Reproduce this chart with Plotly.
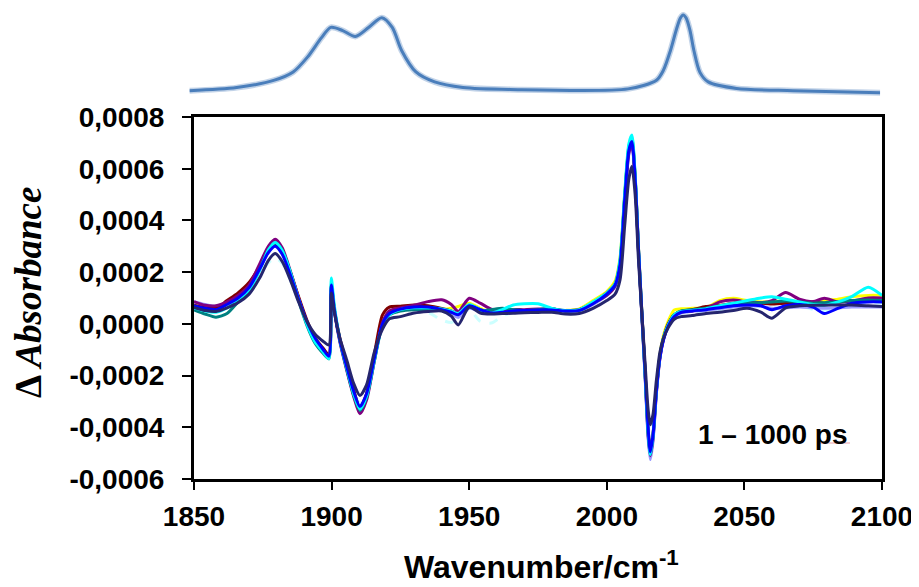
import plotly.graph_objects as go

# ---------------- data ----------------
SCALE = 1e-4  # main-trace values below are given in units of 1e-4 absorbance

wavenumber = [1850, 1854, 1858, 1862, 1866, 1870, 1874, 1877, 1879.5, 1882, 1885, 1888, 1891, 1894,
              1897, 1899, 1899.9, 1901, 1903, 1905.5, 1908, 1910.3, 1912.7, 1915.5, 1918.5, 1921,
              1925, 1930, 1935, 1940, 1943.5, 1946, 1950, 1954, 1958, 1962, 1966, 1970, 1975, 1980,
              1985, 1990, 1995, 2000, 2003, 2004.8, 2006.5, 2008, 2009.1, 2010.3, 2011.5, 2012.7,
              2013.9, 2015, 2015.8, 2016.8, 2018, 2019.3, 2020.6, 2022.3, 2024.5, 2027, 2031, 2036,
              2041, 2046, 2051, 2056, 2060, 2065, 2070, 2075, 2079, 2084, 2089, 2095, 2100]

yellow_e4 = [0.72, 0.64, 0.64, 0.82, 1.05, 1.45, 2.20, 2.85, 3.10, 2.80, 1.95, 1.00, 0.10, -0.55,
             -1.00, -1.25, 1.50, 0.55, -0.60, -1.65, -2.60, -3.25, -2.75, -1.35, 0.05, 0.45,
             0.55, 0.58, 0.60, 0.55, 0.60, 0.67, 0.80, 0.60, 0.45, 0.48, 0.50, 0.52, 0.52, 0.52,
             0.52, 0.58, 0.90, 1.25, 1.65, 2.55, 5.00, 6.80, 7.15, 5.65, 2.90, 0.50,
             -1.85, -4.10, -5.00, -4.30, -2.55, -1.20, -0.45, 0.10, 0.54, 0.58, 0.60, 0.62,
             0.90, 0.99, 0.90, 0.85, 0.85, 0.90, 0.85, 0.85, 0.90, 0.95, 1.05, 1.10, 1.10]

lightcyan_e4 = [0.68, 0.58, 0.52, 0.65, 0.90, 1.25, 1.95, 2.35, 2.55, 2.35, 1.70, 0.85, 0.00, -0.65,
                -1.05, -1.30, 1.65, 0.65, -0.60, -1.70, -2.65, -3.05, -2.65, -1.30, 0.00, 0.40,
                0.55, 0.55, 0.45, 0.15, 0.05, 0.20, 0.55, 0.10, 0.03, 0.30, 0.45, 0.48, 0.50, 0.50,
                0.48, 0.50, 0.75, 1.10, 1.45, 2.30, 4.80, 6.60, 6.95, 5.55, 2.85, 0.45,
                -1.80, -3.90, -4.70, -4.10, -2.50, -1.25, -0.60, -0.10, 0.25, 0.40, 0.45, 0.50,
                0.55, 0.65, 0.70, 0.65, 0.60, 0.70, 0.70, 0.55, 0.50, 0.60, 0.75, 0.80, 0.80]

lavender_e4 = [0.86, 0.75, 0.68, 0.80, 1.05, 1.45, 2.20, 2.80, 3.05, 2.75, 1.95, 0.95, 0.05, -0.60,
               -1.00, -1.22, 1.40, 0.50, -0.62, -1.70, -2.70, -3.30, -2.75, -1.35, 0.00, 0.40,
               0.55, 0.60, 0.60, 0.55, 0.40, 0.25, 0.60, 0.50, 0.40, 0.42, 0.45, 0.48, 0.50, 0.50,
               0.48, 0.50, 0.75, 1.10, 1.45, 2.25, 4.70, 6.55, 6.95, 5.50, 2.80, 0.35,
               -2.00, -4.40, -5.25, -4.55, -2.70, -1.30, -0.60, -0.10, 0.28, 0.42, 0.48, 0.52,
               0.58, 0.65, 0.70, 0.68, 0.60, 0.62, 0.65, 0.62, 0.60, 0.62, 0.65, 0.65, 0.65]

maroon_e4 = [0.72, 0.62, 0.60, 0.90, 1.20, 1.60, 2.25, 2.85, 3.10, 2.80, 2.00, 1.05, 0.15, -0.55,
             -0.95, -1.20, 1.40, 0.55, -0.55, -1.55, -2.55, -3.25, -2.70, -1.20, 0.35, 0.65,
             0.68, 0.73, 0.70, 0.60, 0.50, 0.40, 0.72, 0.55, 0.45, 0.48, 0.52, 0.52, 0.55, 0.55,
             0.52, 0.55, 0.82, 1.20, 1.55, 2.40, 4.90, 6.75, 7.10, 5.65, 2.95, 0.55,
             -1.80, -4.05, -4.90, -4.25, -2.55, -1.25, -0.55, 0.00, 0.35, 0.48, 0.55, 0.67,
             0.72, 0.80, 0.86, 0.80, 0.77, 0.80, 0.85, 0.85, 0.80, 0.85, 0.90, 0.92, 0.93]

purple_e4 = [0.86, 0.72, 0.70, 0.85, 1.10, 1.50, 2.35, 3.00, 3.27, 2.95, 2.05, 1.00, 0.05, -0.65,
             -1.05, -1.28, 1.45, 0.50, -0.70, -1.80, -2.80, -3.48, -2.95, -1.45, 0.05, 0.50,
             0.62, 0.72, 0.86, 0.93, 0.75, 0.48, 0.99, 0.80, 0.57, 0.50, 0.55, 0.55, 0.57, 0.58,
             0.50, 0.55, 0.80, 1.10, 1.45, 2.30, 4.70, 6.60, 7.00, 5.50, 2.80, 0.40,
             -1.95, -4.30, -5.10, -4.45, -2.70, -1.35, -0.60, -0.05, 0.35, 0.45, 0.50, 0.58,
             0.85, 0.92, 0.85, 0.82, 0.90, 1.21, 0.95, 0.86, 0.99, 0.85, 0.88, 1.00, 1.00]

teal_e4 = [0.54, 0.38, 0.26, 0.40, 0.85, 1.30, 2.15, 2.85, 3.14, 2.85, 2.00, 0.90, -0.05, -0.75,
           -1.15, -1.35, 1.55, 0.60, -0.65, -1.75, -2.75, -3.35, -2.85, -1.45, -0.05, 0.35,
           0.50, 0.55, 0.55, 0.52, 0.45, 0.38, 0.65, 0.50, 0.55, 0.60, 0.55, 0.52, 0.55, 0.58,
           0.50, 0.52, 0.80, 1.15, 1.50, 2.35, 4.90, 6.85, 7.20, 5.70, 2.90, 0.45,
           -1.90, -4.20, -5.05, -4.35, -2.60, -1.25, -0.55, -0.05, 0.35, 0.50, 0.55, 0.60,
           0.68, 0.75, 0.80, 0.82, 0.85, 0.88, 0.85, 0.80, 0.82, 0.85, 0.90, 0.92, 0.90]

cyan_e4 = [0.62, 0.50, 0.45, 0.62, 0.90, 1.30, 2.10, 2.85, 3.15, 2.85, 2.00, 0.95, 0.00, -0.70,
           -1.10, -1.35, 1.77, 0.70, -0.60, -1.70, -2.70, -3.30, -2.80, -1.40, -0.05, 0.35,
           0.55, 0.62, 0.62, 0.58, 0.50, 0.40, 0.75, 0.55, 0.42, 0.55, 0.73, 0.78, 0.78, 0.60,
           0.52, 0.55, 0.85, 1.20, 1.55, 2.50, 5.05, 6.95, 7.30, 5.75, 2.95, 0.50,
           -1.90, -4.15, -5.05, -4.35, -2.60, -1.25, -0.55, -0.05, 0.35, 0.48, 0.52, 0.58,
           0.70, 0.80, 0.90, 1.00, 1.05, 0.95, 0.85, 0.75, 0.72, 0.85, 1.05, 1.42, 1.10]

blue_e4 = [0.70, 0.60, 0.55, 0.75, 1.00, 1.40, 2.15, 2.75, 3.00, 2.70, 1.90, 0.95, 0.10, -0.55,
           -1.00, -1.25, 1.50, 0.55, -0.62, -1.65, -2.60, -3.20, -2.70, -1.35, 0.00, 0.40,
           0.57, 0.65, 0.65, 0.55, 0.45, 0.35, 0.70, 0.55, 0.42, 0.45, 0.50, 0.52, 0.54, 0.54,
           0.50, 0.52, 0.78, 1.15, 1.50, 2.30, 4.80, 6.70, 7.05, 5.60, 2.90, 0.50,
           -1.80, -4.00, -4.95, -4.30, -2.60, -1.30, -0.62, -0.10, 0.28, 0.45, 0.50, 0.55,
           0.62, 0.70, 0.73, 0.70, 0.55, 0.70, 0.75, 0.65, 0.40, 0.60, 0.80, 0.85, 0.85]

navy_e4 = [0.64, 0.52, 0.48, 0.62, 0.82, 1.15, 1.80, 2.45, 2.72, 2.42, 1.70, 0.85, 0.10, -0.40,
           -0.68, -0.82, 1.19, 0.45, -0.55, -1.40, -2.30, -2.77, -2.36, -1.10, -0.20, 0.20,
           0.28, 0.42, 0.48, 0.50, 0.30, -0.04, 0.65, 0.42, 0.38, 0.40, 0.41, 0.43, 0.44, 0.45,
           0.38, 0.40, 0.60, 0.90, 1.15, 1.70, 3.80, 5.60, 6.10, 5.00, 2.50, 0.45,
           -1.50, -3.30, -3.90, -3.50, -2.20, -1.10, -0.55, -0.15, 0.18, 0.28, 0.32, 0.40,
           0.45, 0.52, 0.60, 0.45, 0.22, 0.62, 0.70, 0.72, 0.72, 0.73, 0.73, 0.70, 0.67]

series_names = ["yellow", "light cyan", "lavender", "maroon", "purple", "teal", "cyan", "blue", "navy"]
series_values = [yellow_e4, lightcyan_e4, lavender_e4, maroon_e4, purple_e4, teal_e4, cyan_e4, blue_e4, navy_e4]
series_colors = ["#FFFF00", "#CCFFFF", "#9999FF", "#800000", "#800080", "#008080", "#00FFFF", "#0000FF", "#25256E"]
series_dash = ["solid", "dash", "solid", "solid", "solid", "solid", "solid", "solid", "solid"]

# FTIR spectrum shown above the plot (relative absorbance)
inset_wavenumber = [1848.3, 1865.5, 1879.2, 1886.0, 1891.2, 1896.3, 1899.7, 1904.0, 1908.6, 1913.4,
                    1918.2, 1922.0, 1925.4, 1930.6, 1937.4, 1947.7, 1964.8, 2007.7, 2018.0, 2020.5,
                    2023.1, 2025.3, 2026.7, 2027.7, 2028.8, 2030.2, 2031.6, 2033.8, 2036.8, 2047.1,
                    2067.6, 2099.3]
inset_absorbance = [0.03, 0.07, 0.165, 0.27, 0.46, 0.71, 0.84, 0.80, 0.725, 0.84,
                    0.965, 0.84, 0.545, 0.27, 0.143, 0.072, 0.047, 0.054, 0.165, 0.29,
                    0.545, 0.82, 0.96, 1.0, 0.96, 0.80, 0.545, 0.265, 0.143, 0.06,
                    0.03, 0.004]

x_tick_vals = [1850, 1900, 1950, 2000, 2050, 2100]
y_tick_vals = [-0.0006, -0.0004, -0.0002, 0.0, 0.0002, 0.0004, 0.0006, 0.0008]
y_tick_text = ["-0,0006", "-0,0004", "-0,0002", "0,0000", "0,0002", "0,0004", "0,0006", "0,0008"]

# ---------------- figure ----------------
W, H = 919, 587
OFF = 8  # page offset of the figure (default body margin)
ML, MR, MT, MB = 172, 30, 0, 116
PW, PH = W - ML - MR, H - MT - MB


def px_x(p):
    return (p - OFF - ML) / PW


def px_y(p):
    return (PH - (p - OFF - MT)) / PH


fig = go.Figure()

for name, vals, col, dsh in zip(series_names, series_values, series_colors, series_dash):
    fig.add_trace(go.Scatter(
        x=wavenumber, y=[v * SCALE for v in vals], mode="lines", name=name,
        line=dict(color=col, width=3, shape="spline", smoothing=0.7, dash=dsh),
        xaxis="x", yaxis="y", showlegend=False))

fig.add_trace(go.Scatter(
    x=inset_wavenumber, y=inset_absorbance, mode="lines",
    line=dict(color="rgba(79,129,189,0.35)", width=6, shape="spline", smoothing=0.8),
    xaxis="x2", yaxis="y2", showlegend=False, hoverinfo="skip"))
fig.add_trace(go.Scatter(
    x=inset_wavenumber, y=inset_absorbance, mode="lines", name="FTIR",
    line=dict(color="#4A7EBB", width=3, shape="spline", smoothing=0.8),
    xaxis="x2", yaxis="y2", showlegend=False))

tickfont = dict(family="Arial, Liberation Sans, sans-serif", size=28, color="black", weight="bold")

fig.update_layout(
    width=W, height=H,
    margin=dict(l=ML, r=MR, t=MT, b=MB, autoexpand=False),
    paper_bgcolor="white", plot_bgcolor="white",
    xaxis=dict(domain=[px_x(194), px_x(882)], range=[1850, 2100], tickvals=x_tick_vals,
               ticks="outside", ticklen=8, tickwidth=2, tickcolor="black",
               showline=True, linewidth=3, linecolor="black", mirror=True,
               showgrid=False, zeroline=False, tickfont=tickfont, ticklabelstandoff=2,
               automargin=False, anchor="y"),
    yaxis=dict(domain=[px_y(479), px_y(117)], range=[-0.0006, 0.0008], tickvals=y_tick_vals,
               ticktext=y_tick_text, ticks="outside", ticklen=9, tickwidth=2, tickcolor="black",
               showline=True, linewidth=3, linecolor="black", mirror=True,
               showgrid=False, zeroline=False, tickfont=tickfont, ticklabelstandoff=12,
               automargin=False, anchor="x"),
    xaxis2=dict(domain=[px_x(189.4), px_x(880.2)], range=[1848.3, 2099.3], visible=False,
                automargin=False, anchor="y2"),
    yaxis2=dict(domain=[px_y(100), px_y(8)], range=[-0.0886, 1.0886], visible=False,
                automargin=False, anchor="x2"),
)

fig.add_annotation(
    text="Δ <i>Absorbance</i>", xref="paper", yref="paper", x=px_x(28), y=px_y(293),
    xanchor="center", yanchor="middle", textangle=-90, showarrow=False,
    font=dict(family="Times New Roman, Liberation Serif, serif", size=37, color="black",
              weight="bold"))

fig.add_annotation(
    text="Wavenumber/cm<sup>-1</sup>", xref="paper", yref="paper", x=px_x(541), y=px_y(565),
    xanchor="center", yanchor="middle", showarrow=False,
    font=dict(family="Arial, Liberation Sans, sans-serif", size=32, color="black", weight="bold"))

fig.add_annotation(
    text="1 – 1000 ps", xref="paper", yref="paper", x=px_x(772.5), y=px_y(434),
    xanchor="center", yanchor="middle", showarrow=False,
    font=dict(family="Arial, Liberation Sans, sans-serif", size=28, color="black", weight="bold"))

fig.add_shape(type="line", xref="paper", yref="paper",
              x0=px_x(817), x1=px_x(850), y0=px_y(443), y1=px_y(443),
              line=dict(color="#E8A0A8", width=1))

fig.write_html("out.html")
